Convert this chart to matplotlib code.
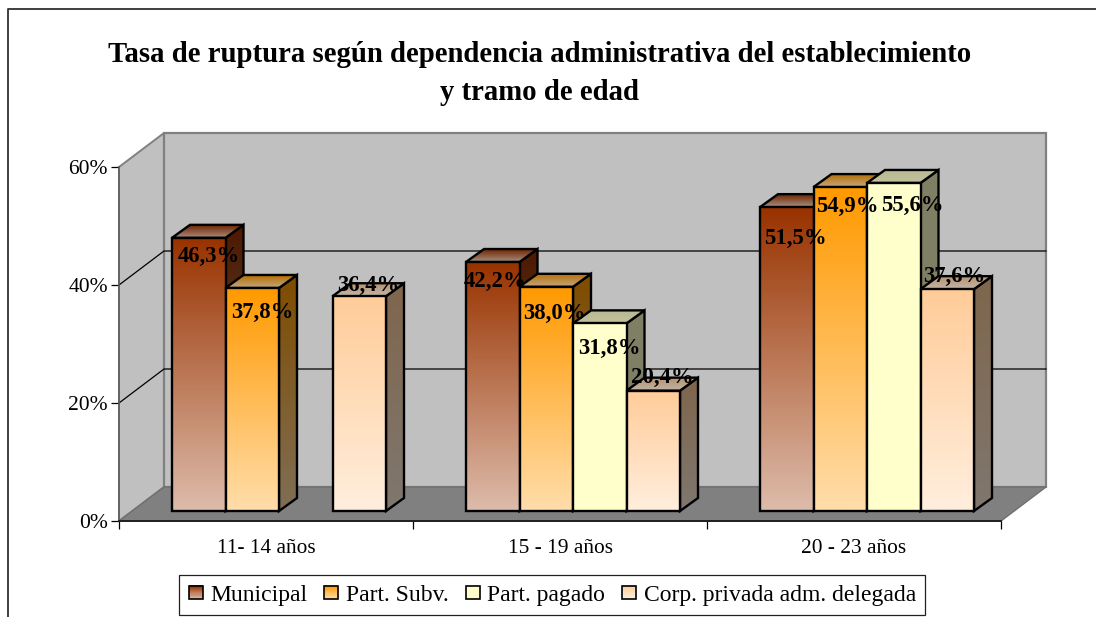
import matplotlib
matplotlib.use("Agg")
import numpy as np
import matplotlib.pyplot as plt
from matplotlib.patches import Polygon, Rectangle
from matplotlib.legend_handler import HandlerBase
from matplotlib.lines import Line2D
from matplotlib.colors import to_rgb

plt.rcParams['font.family'] = ['Liberation Serif', 'DejaVu Serif']

categories = ["11- 14 años", "15 - 19 años", "20 - 23 años"]
series_names = ["Municipal", "Part. Subv.", "Part. pagado", "Corp. privada adm. delegada"]
municipal = [46.3, 42.2, 51.5]
part_subv = [37.8, 38.0, 54.9]
part_pagado = [None, 31.8, 55.6]
corp_privada = [36.4, 20.4, 37.6]
all_series = [municipal, part_subv, part_pagado, corp_privada]
y_ticks = [0, 20, 40, 60]
y_labels = ["0%", "20%", "40%", "60%"]

W, H = 1096, 617
top_cols = ["#993300", "#FF9900", "#FFFFCC", "#FFCC99"]
bot_cols = ["#DDBBAA", "#FFDDAA", "#FFFFCC", "#FFEEDD"]

# label offsets in pixels from the bar's top-front centre (right, down)
label_off = [
    [(10, 19), (2, 19), (9, 31)],
    [(10, 24), (8, 27), (7, 19)],
    [None, (10, 25), (19, 23)],
    [(9, -11), (9, -13), (7, -13)],
]

fig = plt.figure(figsize=(W / 100, H / 100), dpi=100, facecolor="white")
ax = fig.add_axes([119 / W, (H - 521) / H, 882 / W, 354 / H])
ax.set_xlim(0, 3)
ax.set_ylim(0, 60)
ax.set_autoscale_on(False)
ax.patch.set_visible(False)

PX = 3 / 882      # data x per pixel
PY = 60 / 354     # data y per pixel
WALL_DX, WALL_DY = 45 * PX, 34 * PY


def gradient_poly(verts, c_top, c_bot, ytop, ybot, z):
    xs = [v[0] for v in verts]
    n = 64
    t = np.linspace(0, 1, n)[:, None]
    c0, c1 = np.array(to_rgb(c_top)), np.array(to_rgb(c_bot))
    img = (c0 * (1 - t) + c1 * t)[:, None, :]
    im = ax.imshow(img, extent=(min(xs), max(xs), ybot, ytop), origin="upper",
                   aspect="auto", zorder=z, interpolation="bilinear")
    clip = Polygon(verts, closed=True, transform=ax.transData)
    im.set_clip_path(clip)
    im.set_clip_box(fig.bbox)
    ax.add_patch(Polygon(verts, closed=True, fill=False, edgecolor="black",
                         lw=1.7, zorder=z + 0.1, clip_on=False, joinstyle="miter"))


def darker(c, f):
    return tuple(np.array(to_rgb(c)) * f)


# outer chart frame: only the left and top edges fall inside the picture
fig.add_artist(Line2D([7.5 / W, 7.5 / W, 1], [0, (H - 9) / H, (H - 9) / H],
                      color="#303030", lw=1.3))

# walls and floor
ax.add_patch(Polygon([(0, 0), (WALL_DX, WALL_DY), (WALL_DX, 60 + WALL_DY), (0, 60)],
                     fc="#C0C0C0", ec="#808080", lw=1.4, clip_on=False, zorder=1))
ax.add_patch(Rectangle((WALL_DX, WALL_DY), 3, 60, fc="#C0C0C0", ec="#808080", lw=1.6,
                       clip_on=False, zorder=1))
ax.add_patch(Polygon([(0, 0), (3, 0), (3 + WALL_DX, WALL_DY), (WALL_DX, WALL_DY)],
                     fc="#808080", ec="#707070", lw=1.0, clip_on=False, zorder=2))
for v in y_ticks[1:-1]:
    ax.plot([0, WALL_DX, 3 + WALL_DX], [v, v + WALL_DY, v + WALL_DY], color="black",
            lw=0.9, clip_on=False, zorder=3)

# axes
for s in ("top", "right"):
    ax.spines[s].set_visible(False)
ax.spines["left"].set_color("#606060")
ax.spines["left"].set_linewidth(1.2)
ax.spines["bottom"].set_color("#202020")
ax.spines["bottom"].set_linewidth(1.4)
ax.spines["left"].set_zorder(4)
ax.spines["bottom"].set_zorder(4)
ax.set_yticks(y_ticks)
ax.set_yticklabels(y_labels, fontsize=15.5)
ax.set_xticks([0, 1, 2, 3])
ax.set_xticklabels([])
ax.set_xticks([0.5, 1.5, 2.5], minor=True)
ax.set_xticklabels(categories, minor=True, fontsize=15.4)
ax.tick_params(axis="x", which="minor", length=0, pad=13)
ax.tick_params(axis="x", which="major", length=6, width=0.9)
ax.tick_params(axis="y", length=6, width=0.9, pad=2)

# bars
bar_w = 53.5 * PX
inset_x, inset_y = 13 * PX, 10 * PY
depth_x, depth_y = 18 * PX, 13 * PY
n_series = len(all_series)
z = 5
texts = []
for g in range(len(categories)):
    for s, vals in enumerate(all_series):
        v = vals[g]
        if v is None:
            continue
        x0 = g + 0.5 + inset_x + (s - n_series / 2) * bar_w
        x1 = x0 + bar_w
        y0 = inset_y
        y1 = y0 + v
        ct, cb = top_cols[s], bot_cols[s]
        # side face
        gradient_poly([(x1, y0), (x1 + depth_x, y0 + depth_y), (x1 + depth_x, y1 + depth_y), (x1, y1)],
                      darker(ct, 0.5), darker(cb, 0.5), y1 + depth_y, y0, z)
        # top face
        gradient_poly([(x0, y1), (x1, y1), (x1 + depth_x, y1 + depth_y), (x0 + depth_x, y1 + depth_y)],
                      darker(ct, 0.72), darker(cb, 0.76), y1 + depth_y, y1, z + 1)
        # front face
        gradient_poly([(x0, y0), (x1, y0), (x1, y1), (x0, y1)], ct, cb, y1, y0, z + 2)
        z += 3
        off = label_off[s][g]
        texts.append(((x0 + x1) / 2, y1, f"{v:.1f}".replace(".", ",") + "%", off))

for x, y, t, off in texts:
    ax.annotate(t, xy=(x, y), xytext=(off[0] * 0.72, -off[1] * 0.72), textcoords="offset points",
                ha="center", va="center", fontsize=16.4, fontweight="bold", color="black",
                zorder=100, annotation_clip=False)

# title
fig.text(540 / W, (H - 54) / H, "Tasa de ruptura según dependencia administrativa del establecimiento",
         ha="center", va="center", fontsize=20.7, fontweight="bold")
fig.text(540 / W, (H - 92) / H, "y tramo de edad", ha="center", va="center", fontsize=20.7,
         fontweight="bold")


# legend with gradient keys
class GradHandle:
    def __init__(self, c0, c1):
        self.c0, self.c1 = c0, c1


class GradHandler(HandlerBase):
    def create_artists(self, legend, h, xd, yd, width, height, fontsize, trans):
        side = 10
        x = -xd + (width - side) / 2
        y = -yd + (height - side) / 2
        arts = []
        n = 12
        c0, c1 = np.array(to_rgb(h.c0)), np.array(to_rgb(h.c1))
        for i in range(n):
            t = i / (n - 1)
            arts.append(Rectangle((x, y + side * (1 - (i + 1) / n)), side, side / n + 0.2,
                                  fc=c0 * (1 - t) + c1 * t, ec="none", transform=trans))
        arts.append(Rectangle((x, y), side, side, fc="none", ec="black", lw=1.2, transform=trans))
        return arts


handles = [GradHandle(a, b) for a, b in zip(top_cols, bot_cols)]
leg = fig.legend(handles, series_names, handler_map={GradHandle: GradHandler()}, ncol=4,
                 loc="center", bbox_to_anchor=(552 / W, (H - 595) / H), fontsize=17,
                 frameon=True, fancybox=False, edgecolor="#202020", framealpha=1,
                 handlelength=0.65, handletextpad=0.3, columnspacing=0.68,
                 borderpad=0.4, borderaxespad=0)
leg.get_frame().set_linewidth(0.9)
leg.set_zorder(200)

fig.savefig("out.png", dpi=100)
